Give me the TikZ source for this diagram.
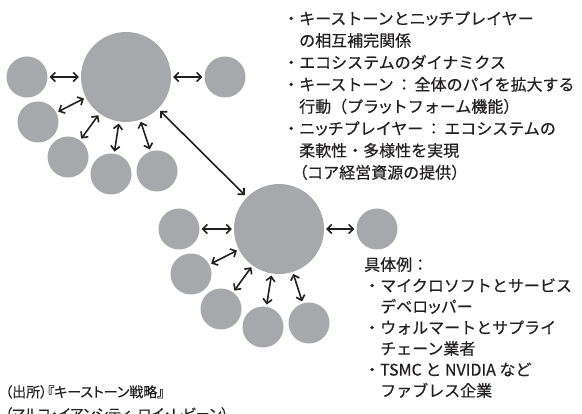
\documentclass[tikz,border=0pt]{standalone}
\usepackage{fontspec}
\newfontfamily\jp[FakeBold=0.4]{Noto Sans CJK JP}
\newfontfamily\jpp[RawFeature=+palt,FakeBold=0.4]{Noto Sans CJK JP}
\newcommand\jlp{{\jpp （}}
\newcommand\jcol{\hspace{2.5pt}：\hspace{2.5pt}}
\newcommand\jsmall[1]{{\jpp #1}}
\usetikzlibrary{arrows.meta}
\definecolor{cgray}{HTML}{A7A8AB}
\definecolor{ink}{HTML}{231F20}
\begin{document}
\begin{tikzpicture}[x=1pt,y=-1pt,
  big/.style={circle,fill=cgray,minimum size=90pt,inner sep=0pt},
  small/.style={circle,fill=cgray,minimum size=41pt,inner sep=0pt},
  link/.style={{Straight Barb[length=4.5pt,width=9pt]}-{Straight Barb[length=4.5pt,width=9pt]},line width=1.6pt,draw=ink,shorten <=2pt,shorten >=2pt},
  txt/.style={font=\jp\fontsize{16}{22}\selectfont,text=ink,align=left,inner sep=0pt,anchor=north west},
  txtb/.style={txt,font=\jp\fontsize{16}{21}\selectfont},
  src/.style={font=\jpp\fontsize{14}{22}\selectfont,text=ink,align=left,inner sep=0pt,anchor=north west},
]
\useasboundingbox (0,0) rectangle (582,414);
% first cluster
\node[big] (A) at (126,77) {};
\node[small] (A1) at (27,77) {};
\node[small] (A2) at (225,77) {};
\node[small] (A3) at (38,122) {};
\node[small] (A4) at (68,157) {};
\node[small] (A5) at (111,174) {};
\node[small] (A6) at (157,171) {};
% second cluster
\node[big] (B) at (279,229) {};
\node[small] (B1) at (179,229) {};
\node[small] (B2) at (377,229) {};
\node[small] (B3) at (191,274) {};
\node[small] (B4) at (221,309) {};
\node[small] (B5) at (263,327) {};
\node[small] (B6) at (309,323) {};
% links
\draw[link] (A1) -- (A);
\draw[link] (A) -- (A2);
\draw[link] (A3) -- (A);
\draw[link] (A4) -- (A);
\draw[link] (A5) -- (A);
\draw[link] (A6) -- (A);
\draw[link,shorten <=3pt,shorten >=3pt] (A) -- (B);
\draw[link] (B1) -- (B);
\draw[link] (B) -- (B2);
\draw[link] (B3) -- (B);
\draw[link] (B4) -- (B);
\draw[link] (B5) -- (B);
\draw[link] (B6) -- (B);
% texts
\node[txt] (T1) at (283,11) {・キーストーンとニ\jsmall{ッ}チプレイヤー\\\hphantom{・}の相互補完関係\\・エコシステムのダイナミクス\\・キーストーン\jcol 全体のパイを拡大する\\\hphantom{・}行動（プラ\jsmall{ッ}トフォーム機能）\\・ニ\jsmall{ッ}チプレイヤー\jcol エコシステムの\\\hphantom{・}柔軟性・多様性を実現\\\hphantom{・}\jlp コア経営資源の提供）};
\node[txtb] (T2) at (364,257) {具体例：\\・マイクロソフトとサービス\\\hphantom{・}デベロ\jsmall{ッ}パー\\・ウォルマートとサプライ\\\hphantom{・}チェーン業者\\・TSMC と NVIDIA など\\\hphantom{・}ファブレス企業};
\node[src] (S) at (5,385) {（出所）『キーストーン戦略』\\（マルコ・イアンシティ，ロイ・レビーン）};
\end{tikzpicture}
\end{document}
